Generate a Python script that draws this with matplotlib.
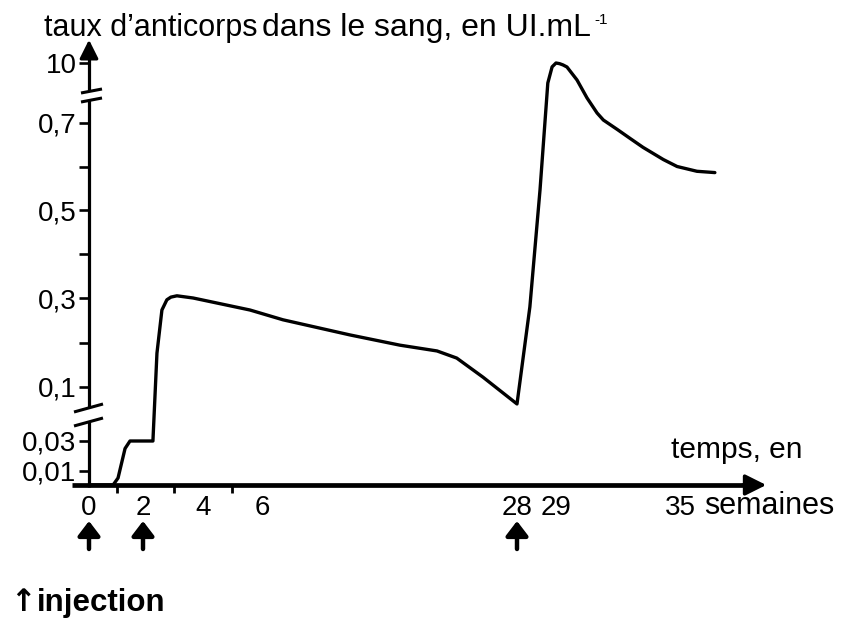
import numpy as np
import matplotlib
matplotlib.use("Agg")
import matplotlib.pyplot as plt
from matplotlib.lines import Line2D
from matplotlib.patches import FancyArrowPatch
from matplotlib.transforms import IdentityTransform

plt.rcParams['font.family'] = ['Liberation Sans', 'DejaVu Sans']

# ---------------- data ----------------
weeks = [0, 0.86, 1.04, 1.31, 1.5, 2.32, 2.45, 2.61, 2.77, 2.9, 3.1, 3.66,
         5.6, 7.81, 13.59, 17.9, 21.1, 22.8, 25.07, 28.0, 28.33,
         28.59, 28.79, 28.9, 29.0, 29.15, 29.3, 29.47, 29.9, 30.33, 30.76,
         31.03, 31.63, 32.19, 32.73, 33.6, 34.19, 35.04, 35.81]
antibody = [0, 0, 0.005, 0.025, 0.03, 0.03, 0.176, 0.273, 0.296, 0.302,
            0.305, 0.30, 0.273, 0.251, 0.217, 0.194, 0.181, 0.165, 0.122,
            0.078, 0.28, 0.546, 6.9, 9.4, 10.0, 9.9, 9.7, 9.38, 7.37,
            4.58, 2.25, 1.16, 0.685, 0.664, 0.644, 0.616, 0.60, 0.589,
            0.586]
injection_weeks = [0, 2, 28]

x_ticks = [0, 2, 4, 6, 28, 29, 35]
x_ticklabels = ['0', '2', '4', '6', '28', '29', '35']
x_minor = [1, 3, 5, 28, 29, 35]
y_ticks = [0.01, 0.03, 0.1, 0.3, 0.5, 0.7, 10]
y_ticklabels = ['0,01', '0,03', '0,1', '0,3', '0,5', '0,7', '10']
y_minor = [0.2, 0.4, 0.6]

# ---------------- layout ----------------
W, H = 843, 620
fig = plt.figure(figsize=(W / 100, H / 100), dpi=100)
ax = fig.add_axes([0, 0, 1, 1])
ax.set_facecolor('none')

# piecewise (broken) axis scales: value -> pixel
XV = [-5, 0, 1, 2, 3, 4, 5, 6, 28, 29, 35, 45]
XP = [-51, 89, 117, 143, 174, 203, 232, 262, 517, 556, 696, 929]
YV = [-0.2, 0, 0.01, 0.03, 0.1, 0.3, 0.5, 0.7, 10, 20]
YP = [765, 485, 471, 441, 387, 298, 210, 123, 63, -2]
YH = [H - p for p in YP]


def fx(v):
    return np.interp(v, XV, XP)


def ifx(p):
    return np.interp(p, XP, XV)


def fy(v):
    return np.interp(v, YV, YH)


def ify(p):
    return np.interp(p, YH, YV)


ax.set_xscale('function', functions=(fx, ifx))
ax.set_yscale('function', functions=(fy, ify))
ax.set_xlim(ifx(0), ifx(W))
ax.set_ylim(ify(0), ify(H))

for s in ax.spines.values():
    s.set_visible(False)
ax.spines['left'].set_position(('data', 0))
ax.spines['bottom'].set_position(('data', 0))

ax.set_yticks(y_ticks)
ax.set_yticklabels(y_ticklabels, fontsize=20)
ax.set_yticks(y_minor, minor=True)
ax.tick_params(axis='y', which='both', direction='out', length=7.5,
               width=1.9, pad=1.5, color='k')

ax.set_xticks(x_ticks)
ax.set_xticklabels(x_ticklabels, fontsize=20)
ax.set_xticks(x_minor, minor=True)
ax.tick_params(axis='x', which='major', length=0, pad=7.5)
ax.tick_params(axis='x', which='minor', direction='out', length=5.5,
               width=2.0)
ax.get_xticklabels()[-1].set_ha('right')

# curve
ax.plot(weeks, antibody, color='k', lw=2.4, solid_joinstyle='round',
        solid_capstyle='round', zorder=3)

# ---------------- axis decorations (pixel coords) ----------------
idt = IdentityTransform()


def pline(xs, ys, lw=2.3):
    fig.add_artist(Line2D(xs, [H - y for y in ys], transform=idt,
                          color='k', lw=lw, solid_capstyle='butt'))


x0 = float(fx(0))
# y axis pieces
pline([x0, x0], [487, 421])
pline([x0, x0], [407, 100])
pline([x0, x0], [91, 55])
fig.add_artist(FancyArrowPatch((x0, H - 60), (x0, H - 37), transform=idt,
                               arrowstyle='-|>,head_length=0.7,head_width=0.35',
                               mutation_scale=16, color='k', lw=2.3))
# break marks
pline([74, 103], [412, 404], lw=2.2)
pline([74, 103], [426, 418], lw=2.2)
pline([81, 102], [93, 89], lw=2.2)
pline([81, 102], [102, 98], lw=2.2)
# x axis
pline([72, 750], [485, 485], lw=3.4)
fig.add_artist(FancyArrowPatch((740, H - 485), (769, H - 485), transform=idt,
                               arrowstyle='-|>,head_length=0.8,head_width=0.4',
                               mutation_scale=16, color='k', lw=2.5))

# injection arrows
for w in injection_weeks:
    ax.annotate('', xy=(w, H - 521), xytext=(w, H - 549),
                xycoords=('data', 'figure pixels'),
                textcoords=('data', 'figure pixels'),
                arrowprops=dict(arrowstyle='-|>,head_length=0.55,head_width=0.42',
                                mutation_scale=16, color='k', lw=3.2,
                                shrinkA=0, shrinkB=0))

# ---------------- texts ----------------
def ftext(x, y, s, **kw):
    fig.text(x / W, 1 - y / H, s, va='baseline', ha='left', color='k', **kw)


ftext(44, 36, 'taux d\u2019anticorps', fontsize=22)
ftext(262, 36, 'dans le sang, en UI.mL', fontsize=23)
ftext(594, 24, '-1', fontsize=11)
ftext(671, 458, 'temps, en', fontsize=21.5)
ftext(704, 514, 'semaines', fontsize=22)
ftext(10, 611, '\u2191', fontsize=22, fontweight='bold',
      family=['DejaVu Sans'])
ftext(37, 611, 'injection', fontsize=22.5, fontweight='bold')

fig.savefig('out.png', dpi=100)
